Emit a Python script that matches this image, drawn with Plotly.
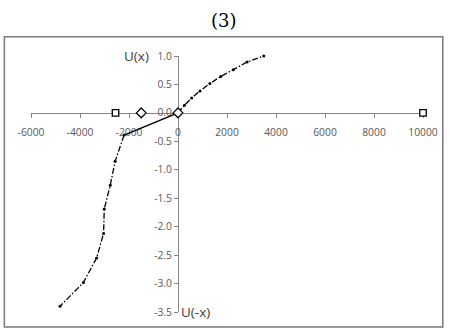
import plotly.graph_objects as go

# U(x) for gains (x >= 0)
gain_x = [0, 263, 557, 897, 1300, 1745, 2255, 2820, 3500]
gain_u = [0, 0.135, 0.26, 0.386, 0.515, 0.64, 0.76, 0.895, 1.0]

# straight segment from the origin into the loss side
link_x = [0, -2200]
link_u = [0, -0.39]

# U(-x) for losses
loss_x = [-2200, -2566, -2764, -3010, -3038, -3321, -3859, -4816]
loss_u = [-0.39, -0.85, -1.27, -1.69, -2.12, -2.55, -2.98, -3.40]

# reference points on the x axis
square_x = [-2550, 10000]
square_u = [0, 0]
diamond_x = [-1500, 0]
diamond_u = [0, 0]

x_ticks = [-6000, -4000, -2000, 0, 2000, 4000, 6000, 8000, 10000]
x_tick_text = ["-6000", "-4000", "-2000", "0", "2000", "4000", "6000", "8000", "10000"]
y_ticks = [1.0, 0.5, 0.0, -0.5, -1.0, -1.5, -2.0, -2.5, -3.0, -3.5]
y_tick_text = ["1.0", "0.5", "0.0", "-0.5", "-1.0", "-1.5", "-2.0", "-2.5", "-3.0", "-3.5"]

x_range = [-6000, 10000]
y_range = [-3.5, 1.0]

dash_style = "6px,2px,1.5px,2px"

fig = go.Figure()
fig.add_trace(go.Scatter(
    x=gain_x, y=gain_u, mode="lines+markers",
    line=dict(color="black", width=1.3, dash=dash_style),
    marker=dict(color="black", size=3), cliponaxis=False))
fig.add_trace(go.Scatter(
    x=link_x, y=link_u, mode="lines",
    line=dict(color="black", width=1.5), cliponaxis=False))
fig.add_trace(go.Scatter(
    x=loss_x, y=loss_u, mode="lines+markers",
    line=dict(color="black", width=1.3, dash=dash_style),
    marker=dict(color="black", size=3), cliponaxis=False))
fig.add_trace(go.Scatter(
    x=square_x, y=square_u, mode="markers",
    marker=dict(symbol="square", size=6.5, color="white",
                line=dict(color="black", width=1.3)), cliponaxis=False))
fig.add_trace(go.Scatter(
    x=diamond_x, y=diamond_u, mode="markers",
    marker=dict(symbol="diamond", size=7.5, color="white",
                line=dict(color="black", width=1.3)), cliponaxis=False))

# the axes cross at the origin
x_cross = (0 - y_range[0]) / (y_range[1] - y_range[0])
y_cross = (0 - x_range[0]) / (x_range[1] - x_range[0])

tick_font = dict(family="Open Sans", size=10.3, color="#595959")
label_font = dict(family="Open Sans", size=13.5, color="#404040")

fig.update_layout(
    width=450, height=331,
    margin=dict(l=31, r=23, t=56, b=19),
    paper_bgcolor="white", plot_bgcolor="white",
    showlegend=False,
    xaxis=dict(range=x_range, anchor="free", position=x_cross,
               showgrid=False, zeroline=False, showline=True,
               linecolor="#868686", linewidth=1,
               ticks="outside", ticklen=4, tickcolor="#868686",
               tickvals=x_ticks, ticktext=x_tick_text,
               tickfont=tick_font, ticklabelstandoff=6,
               layer="below traces"),
    yaxis=dict(range=y_range, anchor="free", position=y_cross,
               showgrid=False, zeroline=False, showline=True,
               linecolor="#868686", linewidth=1,
               ticks="outside", ticklen=4, tickcolor="#868686",
               tickvals=y_ticks, ticktext=y_tick_text,
               tickfont=tick_font, layer="below traces"),
    shapes=[dict(type="rect", xref="paper", yref="paper",
                 x0=-0.068, x1=1.0505, y0=-0.0585, y1=1.0749,
                 line=dict(color="#7a7a7a", width=1.5))],
    annotations=[
        dict(text="(3)", xref="paper", yref="paper", x=0.492, y=1.0, yshift=36,
             xanchor="center", yanchor="middle", showarrow=False,
             font=dict(family="DejaVu Serif", size=18, color="black")),
        dict(text="U(x)", x=-1677, y=1.0, xanchor="center", yanchor="middle",
             showarrow=False, font=label_font),
        dict(text="U(-x)", x=727, y=-3.5, xanchor="center", yanchor="middle",
             showarrow=False, font=label_font),
        dict(text="-x", x=-6444, y=0.139, xanchor="center", yanchor="middle",
             showarrow=False, font=label_font),
        dict(text="x", x=10465, y=0.112, xanchor="center", yanchor="middle",
             showarrow=False, font=label_font),
    ],
)

fig.write_html("out.html")
